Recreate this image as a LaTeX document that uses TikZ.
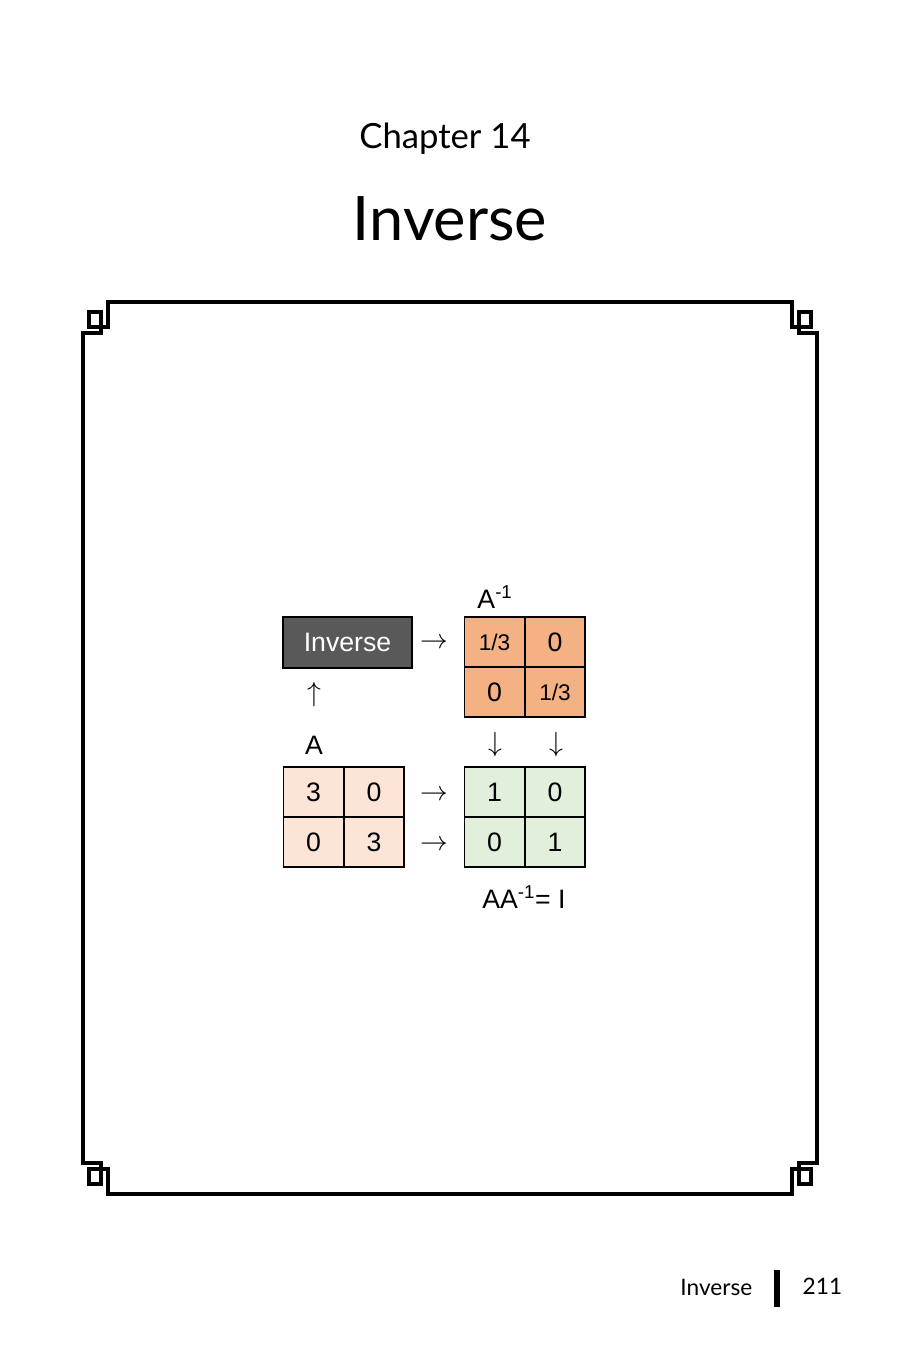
\documentclass[tikz,border=0pt]{standalone}
\usepackage{fontspec}
\setmainfont{Liberation Sans}
\newfontfamily\titlefont{Lato}
\tikzstyle{cellA} = [draw, thick, fill=peachlight, minimum width=45pt, minimum height=37.5pt, inner sep=0pt, font=\fontsize{20}{22}\selectfont]
\tikzstyle{cellB} = [cellA, fill=peachdark]
\tikzstyle{cellC} = [cellA, fill=greenlight]
\tikzstyle{sym} = [font=\fontsize{20}{22}\selectfont]
\definecolor{peachlight}{HTML}{FCE4D6}
\definecolor{peachdark}{HTML}{F4B183}
\definecolor{greenlight}{HTML}{E2EFDA}
\definecolor{boxgray}{HTML}{595959}

\begin{document}
\begin{tikzpicture}[x=0.75pt, y=-0.75pt]
      \useasboundingbox (0,0) rectangle (900,1350);
      \node[font=\titlefont\fontsize{26}{30}\selectfont] (chap) at (445, 139) {Chapter 14};
      \node[font=\titlefont\fontsize{46}{50}\selectfont] (title) at (450, 219) {Inverse};

      % frame
      \draw[line width=3pt] (83,333) -- (101,333) -- (101,312) -- (89,312) -- (89,327) -- (108,327) -- (108,302)
        -- (792,302) -- (792,327) -- (811,327) -- (811,312) -- (799,312) -- (799,333) -- (817,333)
        -- (817,1163) -- (799,1163) -- (799,1184) -- (811,1184) -- (811,1169) -- (792,1169) -- (792,1194)
        -- (108,1194) -- (108,1169) -- (89,1169) -- (89,1184) -- (101,1184) -- (101,1163) -- (83,1163) -- cycle;

      \node[draw, thick, fill=boxgray, text=white, minimum width=96.75pt, minimum height=38.25pt, inner sep=0pt, font=\fontsize{20}{22}\selectfont] (inv) at (347.5, 642.5) {Inverse};

      \node[cellB] (b11) at (494.5, 642) {\fontsize{17}{20}\selectfont 1/3};
      \node[cellB] (b12) at (555, 642) {0};
      \node[cellB] (b21) at (494.5, 692) {0};
      \node[cellB] (b22) at (555, 692) {\fontsize{17}{20}\selectfont 1/3};

      \node[cellA] (a11) at (313.5, 792) {3};
      \node[cellA] (a12) at (374, 792) {0};
      \node[cellA] (a21) at (313.5, 842) {0};
      \node[cellA] (a22) at (374, 842) {3};

      \node[cellC] (c11) at (494.5, 792) {1};
      \node[cellC] (c12) at (555, 792) {0};
      \node[cellC] (c21) at (494.5, 842) {0};
      \node[cellC] (c22) at (555, 842) {1};

      \node[sym] (lblAinv) at (495, 597) {A\textsuperscript{-1}};
      \node[sym] (lblA) at (314, 745) {A};
      \node[sym] (lblI) at (524, 897) {AA\textsuperscript{-1}= $\mathrm{I}$};

      \node[sym] (arr1) at (434, 643) {$\rightarrow$};
      \node[sym] (arr2) at (434, 795) {$\rightarrow$};
      \node[sym] (arr3) at (434, 845) {$\rightarrow$};
      \node[sym] (arr4) at (314, 695) {$\uparrow$};
      \node[sym] (arr5) at (495, 745) {$\downarrow$};
      \node[sym] (arr6) at (556, 745) {$\downarrow$};

      % footer
      \node[font=\titlefont\fontsize{17}{20}\selectfont, anchor=east] (foot) at (757, 1287) {Inverse};
      \draw[line width=4.5pt] (777, 1270) -- (777, 1307);
      \node[font=\titlefont\fontsize{17}{20}\selectfont, anchor=west] (page) at (798, 1286) {211};
    \end{tikzpicture}
\end{document}
